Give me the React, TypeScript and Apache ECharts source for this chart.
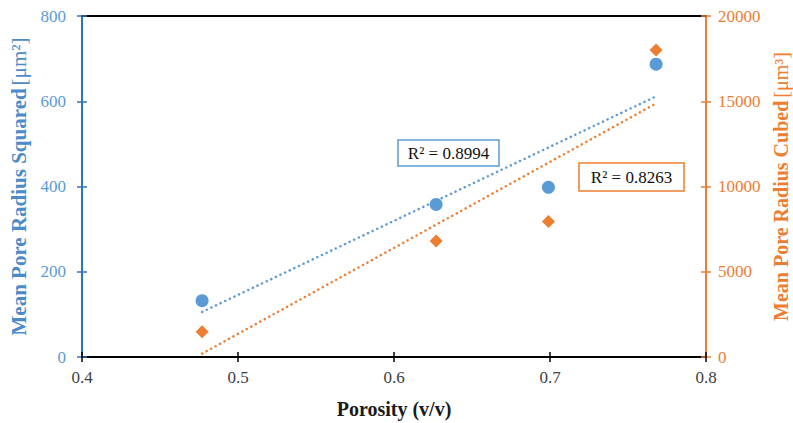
import React, { useEffect, useRef } from "react";
import * as echarts from "echarts";

const porosity = [0.477, 0.627, 0.699, 0.768];
const radiusSquared = [132, 358, 398, 687];
const radiusCubed = [1480, 6800, 7940, 18000];
const r2Labels = ["R\u00b2 = 0.8994", "R\u00b2 = 0.8263"];
const xTicks = { min: 0.4, max: 0.8, interval: 0.1 };
const leftTicks = { min: 0, max: 800, interval: 200 };
const rightTicks = { min: 0, max: 20000, interval: 5000 };

const BLUE = "#5B9BD5";
const ORANGE = "#ED7D31";
const FONT = "Liberation Serif";

function fit(xs: number[], ys: number[]) {
  const n = xs.length;
  const mx = xs.reduce((a, b) => a + b, 0) / n;
  const my = ys.reduce((a, b) => a + b, 0) / n;
  let sxy = 0;
  let sxx = 0;
  for (let i = 0; i < n; i++) {
    sxy += (xs[i] - mx) * (ys[i] - my);
    sxx += (xs[i] - mx) * (xs[i] - mx);
  }
  const b = sxy / sxx;
  const a = my - b * mx;
  const x0 = Math.min(...xs);
  const x1 = Math.max(...xs);
  return [
    [x0, a + b * x0],
    [x1, a + b * x1],
  ];
}

function tickLabel(color: string, margin: number, fmt: (v: number) => string) {
  return {
    margin,
    formatter: (v: number) => `{t|${fmt(v)}}`,
    rich: { t: { fontFamily: FONT, fontSize: 17, color } },
  };
}

export default function App() {
  const ref = useRef<HTMLDivElement>(null);
  useEffect(() => {
    const chart = echarts.init(ref.current!, null, { renderer: "svg" });
    const baseX = {
      type: "value",
      ...xTicks,
      splitLine: { show: false },
    };
    const option: any = {
      animation: false,
      backgroundColor: "#fff",
      textStyle: { fontFamily: FONT },
      grid: { left: 82, right: 87, top: 16, bottom: 66, containLabel: false, outerBoundsMode: "none" },
      xAxis: [
        {
          ...baseX,
          position: "bottom",
          name: "Porosity (v/v)",
          nameLocation: "middle",
          nameGap: 42,
          nameTextStyle: { fontFamily: FONT, fontSize: 20, fontWeight: "bold", color: "#1a1a1a" },
          axisLine: { show: true, onZero: false, lineStyle: { color: "#000", width: 2 } },
          axisTick: { show: true, inside: false, length: 5, lineStyle: { color: "#000", width: 1.5 } },
          axisLabel: tickLabel("#404040", 12, (v) => v.toFixed(1)),
        },
        {
          ...baseX,
          position: "bottom",
          axisLine: { show: false, onZero: false },
          axisTick: { show: true, inside: true, length: 5, lineStyle: { color: "#000", width: 1.5 } },
          axisLabel: { show: false },
        },
        {
          ...baseX,
          position: "top",
          axisLine: { show: true, onZero: false, lineStyle: { color: "#000", width: 2 } },
          axisTick: { show: false },
          axisLabel: { show: false },
        },
      ],
      yAxis: [
        {
          type: "value",
          ...leftTicks,
          position: "left",
          name: "{b|Mean Pore Radius Squared} {n|[\u03bcm\u00b2]}",
          nameLocation: "middle",
          nameGap: 52,
          nameRotate: 90,
          nameTextStyle: {
            rich: {
              b: { fontFamily: FONT, fontSize: 21, fontWeight: "bold", color: "#4A8BC9", lineHeight: 21 },
              n: { fontFamily: FONT, fontSize: 21, color: "#4A8BC9", lineHeight: 21 },
            },
          },
          splitLine: { show: false },
          axisLine: { show: true, onZero: false, lineStyle: { color: "#2E75B6", width: 2 } },
          axisTick: { show: true, inside: false, length: 5, lineStyle: { color: "#2E75B6", width: 1.5 } },
          axisLabel: tickLabel(BLUE, 16, (v) => String(v)),
        },
        {
          type: "value",
          ...rightTicks,
          position: "right",
          name: "{b|Mean Pore Radius Cubed} {n|[\u03bcm\u00b3]}",
          nameLocation: "middle",
          nameGap: 64,
          nameRotate: 90,
          nameTextStyle: {
            rich: {
              b: { fontFamily: FONT, fontSize: 20, fontWeight: "bold", color: ORANGE, lineHeight: 20 },
              n: { fontFamily: FONT, fontSize: 20, color: ORANGE, lineHeight: 20 },
            },
          },
          splitLine: { show: false },
          axisLine: { show: true, onZero: false, lineStyle: { color: ORANGE, width: 2 } },
          axisTick: { show: true, inside: false, length: 5, lineStyle: { color: ORANGE, width: 1.5 } },
          axisLabel: tickLabel(ORANGE, 12, (v) => String(v)),
        },
        {
          type: "value",
          ...leftTicks,
          position: "left",
          splitLine: { show: false },
          axisLine: { show: false, onZero: false },
          axisTick: { show: true, inside: true, length: 5, lineStyle: { color: "#2E75B6", width: 1.5 } },
          axisLabel: { show: false },
        },
        {
          type: "value",
          ...rightTicks,
          position: "right",
          splitLine: { show: false },
          axisLine: { show: false, onZero: false },
          axisTick: { show: true, inside: true, length: 5, lineStyle: { color: ORANGE, width: 1.5 } },
          axisLabel: { show: false },
        },
      ],
      series: [
        {
          type: "line",
          yAxisIndex: 0,
          data: fit(porosity, radiusSquared),
          showSymbol: false,
          symbol: "none",
          z: 1,
          lineStyle: { color: BLUE, width: 2.5, type: [0.1, 5], cap: "round" },
        },
        {
          type: "line",
          yAxisIndex: 1,
          data: fit(porosity, radiusCubed),
          showSymbol: false,
          symbol: "none",
          z: 1,
          lineStyle: { color: ORANGE, width: 2.5, type: [0.1, 5], cap: "round" },
        },
        {
          type: "scatter",
          yAxisIndex: 0,
          data: porosity.map((x, i) => [x, radiusSquared[i]]),
          symbol: "circle",
          symbolSize: 13,
          itemStyle: { color: BLUE, opacity: 1 },
          z: 3,
        },
        {
          type: "scatter",
          yAxisIndex: 1,
          data: porosity.map((x, i) => [x, radiusCubed[i]]),
          symbol: "diamond",
          symbolSize: 13,
          itemStyle: { color: ORANGE, opacity: 1 },
          z: 3,
        },
      ],
      graphic: [
        {
          type: "group",
          z: 10,
          children: [
            {
              type: "rect",
              shape: { x: 398, y: 140, width: 101, height: 26 },
              style: { fill: "#fff", stroke: BLUE, lineWidth: 1.5 },
            },
            {
              type: "text",
              x: 448.5,
              y: 153,
              style: {
                text: r2Labels[0],
                fontFamily: FONT,
                fontSize: 17,
                fill: "#111",
                align: "center",
                verticalAlign: "middle",
              },
            },
            {
              type: "rect",
              shape: { x: 579, y: 163, width: 105, height: 28 },
              style: { fill: "#fff", stroke: ORANGE, lineWidth: 1.5 },
            },
            {
              type: "text",
              x: 631.5,
              y: 177,
              style: {
                text: r2Labels[1],
                fontFamily: FONT,
                fontSize: 17,
                fill: "#111",
                align: "center",
                verticalAlign: "middle",
              },
            },
          ],
        },
      ],
    };
    chart.setOption(option);
    return () => chart.dispose();
  }, []);
  return (
    <div
      ref={ref}
      style={{ position: "fixed", left: 0, top: 0, width: 793, height: 423 }}
    />
  );
}
